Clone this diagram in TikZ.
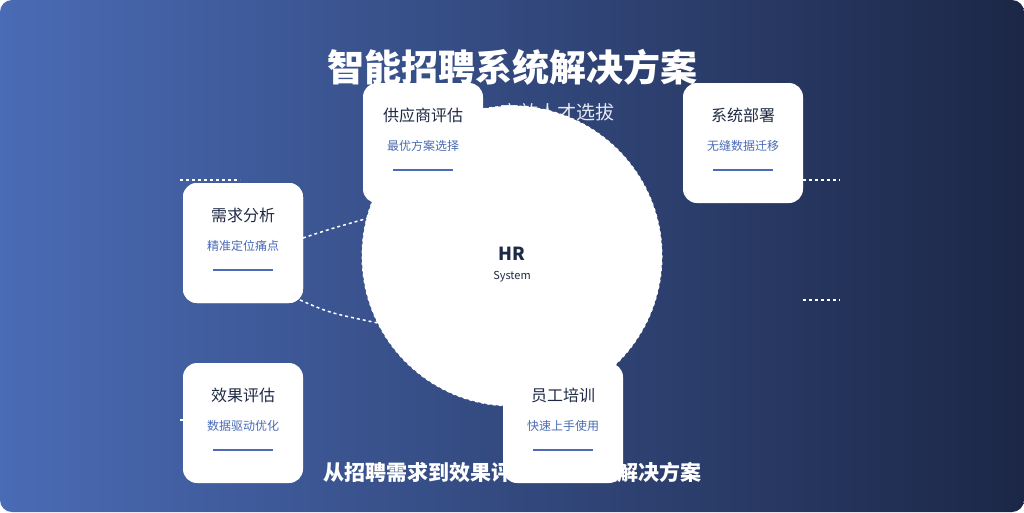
\documentclass[tikz,border=0pt]{standalone}
\usepackage{fontspec}
\setmainfont{Noto Sans CJK SC}
\usetikzlibrary{positioning}
\definecolor{bgleft}{HTML}{4A6BB5}
\definecolor{bgright}{HTML}{1C2747}
\definecolor{ink}{HTML}{1E2A45}
\definecolor{accent}{HTML}{4A6BB5}
\tikzset{
    card/.style={fill=white, rounded corners=14pt, minimum width=120pt, minimum height=120pt},
    cardtitle/.style={text=ink, font=\fontsize{16}{18}\selectfont},
    cardsub/.style={text=accent, font=\fontsize{12}{14}\selectfont},
    link/.style={white, dashed, line width=1.5pt}
}
\begin{document}
\begin{tikzpicture}[x=1pt,y=-1pt]
    \useasboundingbox (0,0) rectangle (1024,512);
    \shade[left color=bgleft, right color=bgright, rounded corners=12pt] (0,0) rectangle (1024,512);

    \node[text=white, font=\bfseries\fontsize{37}{42}\selectfont] (title) at (512,67) {智能招聘系统解决方案};
    \node[text=white!85!bgleft, font=\fontsize{19}{22}\selectfont] (subtitle) at (510,113) {智能匹配，高效人才选拔};
    \node[text=white, font=\bfseries\fontsize{21}{25}\selectfont] (footer) at (512,472) {从招聘需求到效果评估的全流程解决方案};

    % dashed side marks
    \coordinate (m1a) at (180,180); \coordinate (m1b) at (240,180);
    \coordinate (m2a) at (803,180); \coordinate (m2b) at (840,180);
    \coordinate (m3a) at (803,300); \coordinate (m3b) at (840,300);
    \coordinate (m4a) at (180,420); \coordinate (m4b) at (190,420);
    \draw[link] (m1a) -- (m1b);
    \draw[link] (m2a) -- (m2b);
    \draw[link] (m3a) -- (m3b);
    \draw[link] (m4a) -- (m4b);

    \node[card] (need) at (243,243) {};
    \draw[link] (303,238) .. controls (330,229) .. (372,217);
    \draw[link] (300,300) .. controls (330,313) .. (378,323);

    \draw[white, dashed, line width=1pt, fill=white] (512,256) circle [radius=150];
    \node[text=ink, font=\bfseries\fontsize{18}{20}\selectfont] (hr) at (512,254) {HR};
    \node[text=ink, font=\fontsize{11}{13}\selectfont] (sys) at (512,277) {System};

    % cards
    \foreach \n/\x/\y/\t/\s in {need/243/243/需求分析/精准定位痛点,
                               vendor/423/143/供应商评估/最优方案选择,
                               deploy/743/143/系统部署/无缝数据迁移,
                               eval/243/423/效果评估/数据驱动优化,
                               train/563/423/员工培训/快速上手使用}{
        \node[card] (\n) at (\x,\y) {};
        \node[cardtitle] (\n-t) at (\x,\y-28) {\t};
        \node[cardsub] (\n-s) at (\x,\y+3) {\s};
        \draw[accent, line width=2pt] (\x-30,\y+27) -- (\x+30,\y+27);
    }
\end{tikzpicture}
\end{document}
